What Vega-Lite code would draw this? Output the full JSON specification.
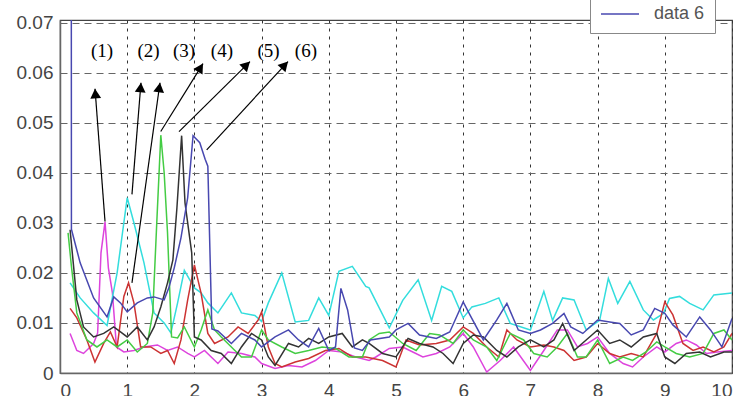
{
  "$schema": "https://vega.github.io/schema/vega-lite/v6.json",
  "width": 672,
  "height": 353,
  "autosize": {"type": "none"},
  "padding": {"left": 60, "top": 20, "right": 5, "bottom": 23},
  "background": "white",
  "config": {
    "view": {"stroke": "#444", "strokeWidth": 1.2},
    "axis": {"labelFont": "Liberation Sans", "labelFontSize": 19, "labelColor": "#444", "ticks": false, "domainColor": "#666", "domainWidth": 1.5, "title": null}
  },
  "layer": [
    {
      "data": {"values": [
        {"s":"data 1","x":0.15,"y":0.0079},{"s":"data 1","x":0.25,"y":0.0045},{"s":"data 1","x":0.35,"y":0.0039},{"s":"data 1","x":0.5,"y":0.0059},{"s":"data 1","x":0.56,"y":0.008},{"s":"data 1","x":0.61,"y":0.024},{"s":"data 1","x":0.67,"y":0.0302},{"s":"data 1","x":0.72,"y":0.021},{"s":"data 1","x":0.78,"y":0.016},{"s":"data 1","x":0.84,"y":0.0052},{"s":"data 1","x":0.95,"y":0.0042},{"s":"data 1","x":1.1,"y":0.0045},{"s":"data 1","x":1.25,"y":0.0052},{"s":"data 1","x":1.45,"y":0.0056},{"s":"data 1","x":1.6,"y":0.0045},{"s":"data 1","x":1.75,"y":0.0052},{"s":"data 1","x":1.9,"y":0.0039},{"s":"data 1","x":2.0,"y":0.0032},{"s":"data 1","x":2.15,"y":0.0045},{"s":"data 1","x":2.35,"y":0.0019},{"s":"data 1","x":2.5,"y":0.0042},{"s":"data 1","x":2.7,"y":0.0039},{"s":"data 1","x":2.9,"y":0.0032},{"s":"data 1","x":3.0,"y":0.0019},{"s":"data 1","x":3.2,"y":0.0009},{"s":"data 1","x":3.4,"y":0.0015},{"s":"data 1","x":3.6,"y":0.0012},{"s":"data 1","x":3.8,"y":0.0025},{"s":"data 1","x":4.0,"y":0.0045},{"s":"data 1","x":4.2,"y":0.0042},{"s":"data 1","x":4.4,"y":0.0032},{"s":"data 1","x":4.6,"y":0.0025},{"s":"data 1","x":4.7,"y":0.0032},{"s":"data 1","x":4.9,"y":0.0049},{"s":"data 1","x":5.1,"y":0.0052},{"s":"data 1","x":5.25,"y":0.0042},{"s":"data 1","x":5.4,"y":0.0032},{"s":"data 1","x":5.6,"y":0.0039},{"s":"data 1","x":5.8,"y":0.0052},{"s":"data 1","x":6.0,"y":0.0079},{"s":"data 1","x":6.15,"y":0.0052},{"s":"data 1","x":6.35,"y":0.0002},{"s":"data 1","x":6.55,"y":0.0025},{"s":"data 1","x":6.75,"y":0.0052},{"s":"data 1","x":7.0,"y":0.0005},{"s":"data 1","x":7.2,"y":0.0045},{"s":"data 1","x":7.4,"y":0.0086},{"s":"data 1","x":7.55,"y":0.0086},{"s":"data 1","x":7.7,"y":0.0052},{"s":"data 1","x":7.85,"y":0.0059},{"s":"data 1","x":8.0,"y":0.0072},{"s":"data 1","x":8.18,"y":0.0039},{"s":"data 1","x":8.38,"y":0.0019},{"s":"data 1","x":8.52,"y":0.0012},{"s":"data 1","x":8.68,"y":0.0032},{"s":"data 1","x":8.88,"y":0.0052},{"s":"data 1","x":9.0,"y":0.0042},{"s":"data 1","x":9.17,"y":0.0059},{"s":"data 1","x":9.32,"y":0.0066},{"s":"data 1","x":9.47,"y":0.0056},{"s":"data 1","x":9.62,"y":0.0039},{"s":"data 1","x":9.78,"y":0.0042},{"s":"data 1","x":10.0,"y":0.0045},

        {"s":"data 2","x":0.15,"y":0.018},{"s":"data 2","x":0.3,"y":0.015},{"s":"data 2","x":0.5,"y":0.012},{"s":"data 2","x":0.7,"y":0.0095},{"s":"data 2","x":0.85,"y":0.02},{"s":"data 2","x":1.0,"y":0.035},{"s":"data 2","x":1.1,"y":0.03},{"s":"data 2","x":1.25,"y":0.022},{"s":"data 2","x":1.4,"y":0.012},{"s":"data 2","x":1.55,"y":0.01},{"s":"data 2","x":1.65,"y":0.008},{"s":"data 2","x":1.75,"y":0.014},{"s":"data 2","x":1.85,"y":0.0205},{"s":"data 2","x":2.0,"y":0.017},{"s":"data 2","x":2.1,"y":0.016},{"s":"data 2","x":2.2,"y":0.014},{"s":"data 2","x":2.35,"y":0.012},{"s":"data 2","x":2.55,"y":0.016},{"s":"data 2","x":2.7,"y":0.012},{"s":"data 2","x":2.9,"y":0.0115},{"s":"data 2","x":3.0,"y":0.0103},{"s":"data 2","x":3.1,"y":0.014},{"s":"data 2","x":3.3,"y":0.02},{"s":"data 2","x":3.5,"y":0.0102},{"s":"data 2","x":3.7,"y":0.0105},{"s":"data 2","x":3.85,"y":0.015},{"s":"data 2","x":4.0,"y":0.0115},{"s":"data 2","x":4.15,"y":0.0203},{"s":"data 2","x":4.35,"y":0.0213},{"s":"data 2","x":4.55,"y":0.0173},{"s":"data 2","x":4.6,"y":0.017},{"s":"data 2","x":4.9,"y":0.009},{"s":"data 2","x":5.1,"y":0.0145},{"s":"data 2","x":5.33,"y":0.0186},{"s":"data 2","x":5.53,"y":0.0105},{"s":"data 2","x":5.68,"y":0.0173},{"s":"data 2","x":5.83,"y":0.0163},{"s":"data 2","x":6.0,"y":0.011},{"s":"data 2","x":6.13,"y":0.0132},{"s":"data 2","x":6.33,"y":0.0139},{"s":"data 2","x":6.53,"y":0.015},{"s":"data 2","x":6.7,"y":0.0099},{"s":"data 2","x":7.0,"y":0.0086},{"s":"data 2","x":7.2,"y":0.0163},{"s":"data 2","x":7.33,"y":0.0105},{"s":"data 2","x":7.48,"y":0.015},{"s":"data 2","x":7.65,"y":0.0146},{"s":"data 2","x":7.83,"y":0.0086},{"s":"data 2","x":8.03,"y":0.0105},{"s":"data 2","x":8.16,"y":0.0189},{"s":"data 2","x":8.3,"y":0.0139},{"s":"data 2","x":8.48,"y":0.0183},{"s":"data 2","x":8.68,"y":0.0126},{"s":"data 2","x":8.83,"y":0.0106},{"s":"data 2","x":8.98,"y":0.0119},{"s":"data 2","x":9.07,"y":0.0149},{"s":"data 2","x":9.22,"y":0.0153},{"s":"data 2","x":9.37,"y":0.0139},{"s":"data 2","x":9.57,"y":0.0126},{"s":"data 2","x":9.73,"y":0.0156},{"s":"data 2","x":10.0,"y":0.016},

        {"s":"data 3","x":0.15,"y":0.0129},{"s":"data 3","x":0.25,"y":0.011},{"s":"data 3","x":0.4,"y":0.0066},{"s":"data 3","x":0.52,"y":0.0022},{"s":"data 3","x":0.65,"y":0.0059},{"s":"data 3","x":0.75,"y":0.0082},{"s":"data 3","x":0.85,"y":0.0052},{"s":"data 3","x":0.95,"y":0.0153},{"s":"data 3","x":1.02,"y":0.018},{"s":"data 3","x":1.1,"y":0.014},{"s":"data 3","x":1.2,"y":0.0052},{"s":"data 3","x":1.35,"y":0.0052},{"s":"data 3","x":1.5,"y":0.0039},{"s":"data 3","x":1.6,"y":0.0045},{"s":"data 3","x":1.7,"y":0.0019},{"s":"data 3","x":1.8,"y":0.0066},{"s":"data 3","x":1.9,"y":0.0146},{"s":"data 3","x":2.0,"y":0.0216},{"s":"data 3","x":2.1,"y":0.0159},{"s":"data 3","x":2.2,"y":0.0079},{"s":"data 3","x":2.3,"y":0.0059},{"s":"data 3","x":2.5,"y":0.0072},{"s":"data 3","x":2.65,"y":0.0092},{"s":"data 3","x":2.8,"y":0.0079},{"s":"data 3","x":2.95,"y":0.0106},{"s":"data 3","x":3.0,"y":0.0122},{"s":"data 3","x":3.1,"y":0.0052},{"s":"data 3","x":3.2,"y":0.0019},{"s":"data 3","x":3.3,"y":0.0012},{"s":"data 3","x":3.5,"y":0.0022},{"s":"data 3","x":3.7,"y":0.0029},{"s":"data 3","x":3.95,"y":0.0045},{"s":"data 3","x":4.15,"y":0.0049},{"s":"data 3","x":4.35,"y":0.0032},{"s":"data 3","x":4.55,"y":0.0032},{"s":"data 3","x":4.8,"y":0.0025},{"s":"data 3","x":5.0,"y":0.0012},{"s":"data 3","x":5.15,"y":0.0066},{"s":"data 3","x":5.35,"y":0.0056},{"s":"data 3","x":5.6,"y":0.0059},{"s":"data 3","x":5.8,"y":0.0066},{"s":"data 3","x":6.0,"y":0.0092},{"s":"data 3","x":6.15,"y":0.0079},{"s":"data 3","x":6.35,"y":0.0052},{"s":"data 3","x":6.53,"y":0.0032},{"s":"data 3","x":6.65,"y":0.0086},{"s":"data 3","x":6.8,"y":0.0066},{"s":"data 3","x":7.0,"y":0.0052},{"s":"data 3","x":7.2,"y":0.0056},{"s":"data 3","x":7.35,"y":0.0052},{"s":"data 3","x":7.5,"y":0.0045},{"s":"data 3","x":7.65,"y":0.0025},{"s":"data 3","x":7.83,"y":0.0032},{"s":"data 3","x":8.0,"y":0.0059},{"s":"data 3","x":8.18,"y":0.0039},{"s":"data 3","x":8.33,"y":0.0032},{"s":"data 3","x":8.5,"y":0.0039},{"s":"data 3","x":8.68,"y":0.0032},{"s":"data 3","x":8.88,"y":0.0079},{"s":"data 3","x":9.0,"y":0.0142},{"s":"data 3","x":9.12,"y":0.0116},{"s":"data 3","x":9.27,"y":0.0059},{"s":"data 3","x":9.42,"y":0.0045},{"s":"data 3","x":9.57,"y":0.0052},{"s":"data 3","x":9.73,"y":0.0042},{"s":"data 3","x":9.88,"y":0.0052},{"s":"data 3","x":10.0,"y":0.0079},

        {"s":"data 4","x":0.12,"y":0.028},{"s":"data 4","x":0.17,"y":0.0213},{"s":"data 4","x":0.25,"y":0.012},{"s":"data 4","x":0.4,"y":0.0066},{"s":"data 4","x":0.55,"y":0.0052},{"s":"data 4","x":0.7,"y":0.0066},{"s":"data 4","x":0.85,"y":0.0052},{"s":"data 4","x":1.0,"y":0.0066},{"s":"data 4","x":1.15,"y":0.0042},{"s":"data 4","x":1.3,"y":0.0059},{"s":"data 4","x":1.38,"y":0.012},{"s":"data 4","x":1.44,"y":0.03},{"s":"data 4","x":1.5,"y":0.0475},{"s":"data 4","x":1.55,"y":0.04},{"s":"data 4","x":1.6,"y":0.028},{"s":"data 4","x":1.66,"y":0.0072},{"s":"data 4","x":1.75,"y":0.007},{"s":"data 4","x":1.85,"y":0.0092},{"s":"data 4","x":2.0,"y":0.0052},{"s":"data 4","x":2.1,"y":0.0086},{"s":"data 4","x":2.2,"y":0.0126},{"s":"data 4","x":2.3,"y":0.0086},{"s":"data 4","x":2.4,"y":0.0072},{"s":"data 4","x":2.55,"y":0.0052},{"s":"data 4","x":2.7,"y":0.0032},{"s":"data 4","x":2.85,"y":0.0032},{"s":"data 4","x":3.0,"y":0.0086},{"s":"data 4","x":3.1,"y":0.0066},{"s":"data 4","x":3.3,"y":0.0052},{"s":"data 4","x":3.5,"y":0.0039},{"s":"data 4","x":3.7,"y":0.0045},{"s":"data 4","x":3.9,"y":0.0052},{"s":"data 4","x":4.1,"y":0.0049},{"s":"data 4","x":4.3,"y":0.0032},{"s":"data 4","x":4.5,"y":0.0032},{"s":"data 4","x":4.6,"y":0.0066},{"s":"data 4","x":4.75,"y":0.0079},{"s":"data 4","x":4.9,"y":0.0082},{"s":"data 4","x":5.1,"y":0.0059},{"s":"data 4","x":5.3,"y":0.0045},{"s":"data 4","x":5.5,"y":0.0079},{"s":"data 4","x":5.65,"y":0.0076},{"s":"data 4","x":5.85,"y":0.0059},{"s":"data 4","x":6.0,"y":0.0086},{"s":"data 4","x":6.15,"y":0.0066},{"s":"data 4","x":6.35,"y":0.0052},{"s":"data 4","x":6.5,"y":0.0025},{"s":"data 4","x":6.7,"y":0.0079},{"s":"data 4","x":6.9,"y":0.0066},{"s":"data 4","x":7.05,"y":0.0039},{"s":"data 4","x":7.25,"y":0.0032},{"s":"data 4","x":7.4,"y":0.0052},{"s":"data 4","x":7.55,"y":0.0079},{"s":"data 4","x":7.7,"y":0.0032},{"s":"data 4","x":7.83,"y":0.0032},{"s":"data 4","x":8.0,"y":0.0066},{"s":"data 4","x":8.18,"y":0.0019},{"s":"data 4","x":8.38,"y":0.0032},{"s":"data 4","x":8.52,"y":0.0025},{"s":"data 4","x":8.72,"y":0.0042},{"s":"data 4","x":8.88,"y":0.0062},{"s":"data 4","x":9.0,"y":0.0052},{"s":"data 4","x":9.17,"y":0.0039},{"s":"data 4","x":9.37,"y":0.0032},{"s":"data 4","x":9.57,"y":0.0039},{"s":"data 4","x":9.73,"y":0.0079},{"s":"data 4","x":9.88,"y":0.0086},{"s":"data 4","x":10.0,"y":0.0066},

        {"s":"data 5","x":0.15,"y":0.0286},{"s":"data 5","x":0.25,"y":0.0146},{"s":"data 5","x":0.35,"y":0.0092},{"s":"data 5","x":0.5,"y":0.0072},{"s":"data 5","x":0.65,"y":0.0079},{"s":"data 5","x":0.8,"y":0.0092},{"s":"data 5","x":0.9,"y":0.0082},{"s":"data 5","x":1.0,"y":0.0072},{"s":"data 5","x":1.15,"y":0.0092},{"s":"data 5","x":1.3,"y":0.0066},{"s":"data 5","x":1.4,"y":0.0092},{"s":"data 5","x":1.5,"y":0.0132},{"s":"data 5","x":1.6,"y":0.018},{"s":"data 5","x":1.68,"y":0.0226},{"s":"data 5","x":1.74,"y":0.033},{"s":"data 5","x":1.81,"y":0.0474},{"s":"data 5","x":1.86,"y":0.034},{"s":"data 5","x":1.92,"y":0.028},{"s":"data 5","x":1.96,"y":0.024},{"s":"data 5","x":2.0,"y":0.0072},{"s":"data 5","x":2.1,"y":0.0066},{"s":"data 5","x":2.25,"y":0.0045},{"s":"data 5","x":2.4,"y":0.0039},{"s":"data 5","x":2.55,"y":0.0019},{"s":"data 5","x":2.7,"y":0.0052},{"s":"data 5","x":2.85,"y":0.0079},{"s":"data 5","x":3.0,"y":0.0066},{"s":"data 5","x":3.1,"y":0.0032},{"s":"data 5","x":3.2,"y":0.0015},{"s":"data 5","x":3.4,"y":0.0059},{"s":"data 5","x":3.55,"y":0.0052},{"s":"data 5","x":3.7,"y":0.0069},{"s":"data 5","x":3.85,"y":0.0059},{"s":"data 5","x":4.0,"y":0.0072},{"s":"data 5","x":4.2,"y":0.0079},{"s":"data 5","x":4.35,"y":0.0052},{"s":"data 5","x":4.5,"y":0.0066},{"s":"data 5","x":4.6,"y":0.0059},{"s":"data 5","x":4.8,"y":0.0039},{"s":"data 5","x":5.0,"y":0.0032},{"s":"data 5","x":5.18,"y":0.0069},{"s":"data 5","x":5.35,"y":0.0059},{"s":"data 5","x":5.55,"y":0.0052},{"s":"data 5","x":5.7,"y":0.0039},{"s":"data 5","x":5.85,"y":0.0019},{"s":"data 5","x":6.0,"y":0.0059},{"s":"data 5","x":6.15,"y":0.0076},{"s":"data 5","x":6.3,"y":0.0072},{"s":"data 5","x":6.5,"y":0.0045},{"s":"data 5","x":6.65,"y":0.0032},{"s":"data 5","x":6.82,"y":0.0052},{"s":"data 5","x":7.0,"y":0.0066},{"s":"data 5","x":7.2,"y":0.0052},{"s":"data 5","x":7.35,"y":0.0066},{"s":"data 5","x":7.48,"y":0.0099},{"s":"data 5","x":7.65,"y":0.0045},{"s":"data 5","x":7.83,"y":0.0066},{"s":"data 5","x":8.0,"y":0.0086},{"s":"data 5","x":8.18,"y":0.0059},{"s":"data 5","x":8.33,"y":0.0066},{"s":"data 5","x":8.5,"y":0.0052},{"s":"data 5","x":8.68,"y":0.0072},{"s":"data 5","x":8.88,"y":0.0079},{"s":"data 5","x":9.0,"y":0.0032},{"s":"data 5","x":9.15,"y":0.0019},{"s":"data 5","x":9.32,"y":0.0039},{"s":"data 5","x":9.52,"y":0.0042},{"s":"data 5","x":9.68,"y":0.0032},{"s":"data 5","x":9.88,"y":0.0042},{"s":"data 5","x":10.0,"y":0.0042},

        {"s":"data 6","x":0.16,"y":0.3},{"s":"data 6","x":0.17,"y":0.0287},{"s":"data 6","x":0.3,"y":0.022},{"s":"data 6","x":0.5,"y":0.015},{"s":"data 6","x":0.7,"y":0.0112},{"s":"data 6","x":0.8,"y":0.0152},{"s":"data 6","x":0.9,"y":0.014},{"s":"data 6","x":1.0,"y":0.0122},{"s":"data 6","x":1.15,"y":0.014},{"s":"data 6","x":1.3,"y":0.015},{"s":"data 6","x":1.4,"y":0.0152},{"s":"data 6","x":1.55,"y":0.0146},{"s":"data 6","x":1.62,"y":0.017},{"s":"data 6","x":1.7,"y":0.021},{"s":"data 6","x":1.8,"y":0.027},{"s":"data 6","x":1.9,"y":0.035},{"s":"data 6","x":1.98,"y":0.0474},{"s":"data 6","x":2.08,"y":0.046},{"s":"data 6","x":2.16,"y":0.0427},{"s":"data 6","x":2.2,"y":0.0413},{"s":"data 6","x":2.26,"y":0.0088},{"s":"data 6","x":2.35,"y":0.0084},{"s":"data 6","x":2.55,"y":0.0059},{"s":"data 6","x":2.7,"y":0.0079},{"s":"data 6","x":2.9,"y":0.0066},{"s":"data 6","x":3.0,"y":0.0052},{"s":"data 6","x":3.2,"y":0.0072},{"s":"data 6","x":3.4,"y":0.0086},{"s":"data 6","x":3.55,"y":0.0066},{"s":"data 6","x":3.7,"y":0.0052},{"s":"data 6","x":3.85,"y":0.0089},{"s":"data 6","x":4.0,"y":0.0045},{"s":"data 6","x":4.1,"y":0.0052},{"s":"data 6","x":4.18,"y":0.0169},{"s":"data 6","x":4.28,"y":0.0126},{"s":"data 6","x":4.38,"y":0.005},{"s":"data 6","x":4.5,"y":0.0045},{"s":"data 6","x":4.62,"y":0.0066},{"s":"data 6","x":4.9,"y":0.0072},{"s":"data 6","x":5.0,"y":0.0086},{"s":"data 6","x":5.18,"y":0.0099},{"s":"data 6","x":5.35,"y":0.0076},{"s":"data 6","x":5.6,"y":0.0069},{"s":"data 6","x":5.8,"y":0.0082},{"s":"data 6","x":6.0,"y":0.0142},{"s":"data 6","x":6.1,"y":0.0116},{"s":"data 6","x":6.3,"y":0.0066},{"s":"data 6","x":6.5,"y":0.0106},{"s":"data 6","x":6.65,"y":0.0139},{"s":"data 6","x":6.82,"y":0.0086},{"s":"data 6","x":7.0,"y":0.0079},{"s":"data 6","x":7.15,"y":0.0086},{"s":"data 6","x":7.33,"y":0.0099},{"s":"data 6","x":7.5,"y":0.0119},{"s":"data 6","x":7.6,"y":0.0092},{"s":"data 6","x":7.78,"y":0.0079},{"s":"data 6","x":8.0,"y":0.0106},{"s":"data 6","x":8.18,"y":0.0102},{"s":"data 6","x":8.33,"y":0.0099},{"s":"data 6","x":8.5,"y":0.0076},{"s":"data 6","x":8.68,"y":0.0086},{"s":"data 6","x":8.85,"y":0.0129},{"s":"data 6","x":9.0,"y":0.0119},{"s":"data 6","x":9.12,"y":0.0096},{"s":"data 6","x":9.32,"y":0.0072},{"s":"data 6","x":9.52,"y":0.0112},{"s":"data 6","x":9.68,"y":0.0086},{"s":"data 6","x":9.85,"y":0.0052},{"s":"data 6","x":10.0,"y":0.0109}
      ]},
      "mark": {"type": "line", "clip": true, "strokeWidth": 1.5},
      "encoding": {
        "x": {"field": "x", "type": "quantitative", "scale": {"domain": [0, 10], "nice": false, "zero": false},
              "axis": {"values": [0,1,2,3,4,5,6,7,8,9,10], "format": "d", "labelPadding": 8, "grid": true, "gridColor": "#333", "gridDash": [3, 5], "gridWidth": 1}},
        "y": {"field": "y", "type": "quantitative", "scale": {"domain": [0, 0.0705], "nice": false},
              "axis": {"values": [0,0.01,0.02,0.03,0.04,0.05,0.06,0.07], "format": ".2~f", "labelPadding": 7, "grid": true, "gridColor": "#666", "gridDash": [7, 5], "gridWidth": 1}},
        "color": {"field": "s", "type": "nominal",
                  "scale": {"domain": ["data 1","data 2","data 3","data 4","data 5","data 6"], "range": ["#dd44dd","#33dddd","#cc3333","#44cc44","#333333","#4848b0"]},
                  "legend": {"orient": "none", "legendX": 530, "legendY": -191, "title": null, "symbolType": "stroke", "symbolSize": 1444, "symbolStrokeWidth": 1.5, "labelFont": "Liberation Sans", "labelFontSize": 18, "labelColor": "#555", "labelOffset": 14, "padding": 10, "strokeColor": "#888", "fillColor": "white"}}
      }
    },
    {
      "data": {"values": [
        {"x1":0.670,"y1":0.03026,"x2":0.521,"y2":0.05677},
        {"x1":1.071,"y1":0.03568,"x2":1.205,"y2":0.05797},
        {"x1":1.071,"y1":0.01801,"x2":1.488,"y2":0.05797},
        {"x1":1.499,"y1":0.04822,"x2":2.128,"y2":0.06179},
        {"x1":1.771,"y1":0.04822,"x2":2.827,"y2":0.06219},
        {"x1":2.183,"y1":0.04458,"x2":3.393,"y2":0.06219}
      ]},
      "layer": [
        {
          "mark": {"type": "rule", "color": "black", "strokeWidth": 1.2},
          "encoding": {
            "x": {"field": "x1", "type": "quantitative"},
            "y": {"field": "y1", "type": "quantitative"},
            "x2": {"field": "x2"},
            "y2": {"field": "y2"}
          }
        },
        {
          "transform": [{"calculate": "atan2((datum.x2 - datum.x1) * 67.2, (datum.y2 - datum.y1) * 5007) * 180 / PI", "as": "ang"}],
          "mark": {"type": "point", "shape": "M0,0L0.9,1.6L-0.9,1.6Z", "filled": true, "color": "black", "opacity": 1, "size": 144},
          "encoding": {
            "x": {"field": "x2", "type": "quantitative"},
            "y": {"field": "y2", "type": "quantitative"},
            "angle": {"field": "ang", "type": "quantitative", "scale": null}
          }
        }
      ]
    },
    {
      "data": {"values": [
        {"label": "(1)", "x": 0.625, "y": 0.0644},
        {"label": "(2)", "x": 1.318, "y": 0.0644},
        {"label": "(3)", "x": 1.845, "y": 0.0644},
        {"label": "(4)", "x": 2.41, "y": 0.0644},
        {"label": "(5)", "x": 3.103, "y": 0.0644},
        {"label": "(6)", "x": 3.66, "y": 0.0644}
      ]},
      "mark": {"type": "text", "font": "Liberation Serif", "fontSize": 19, "color": "black", "align": "center", "baseline": "middle"},
      "encoding": {
        "x": {"field": "x", "type": "quantitative"},
        "y": {"field": "y", "type": "quantitative"},
        "text": {"field": "label"}
      }
    }
  ]
}
